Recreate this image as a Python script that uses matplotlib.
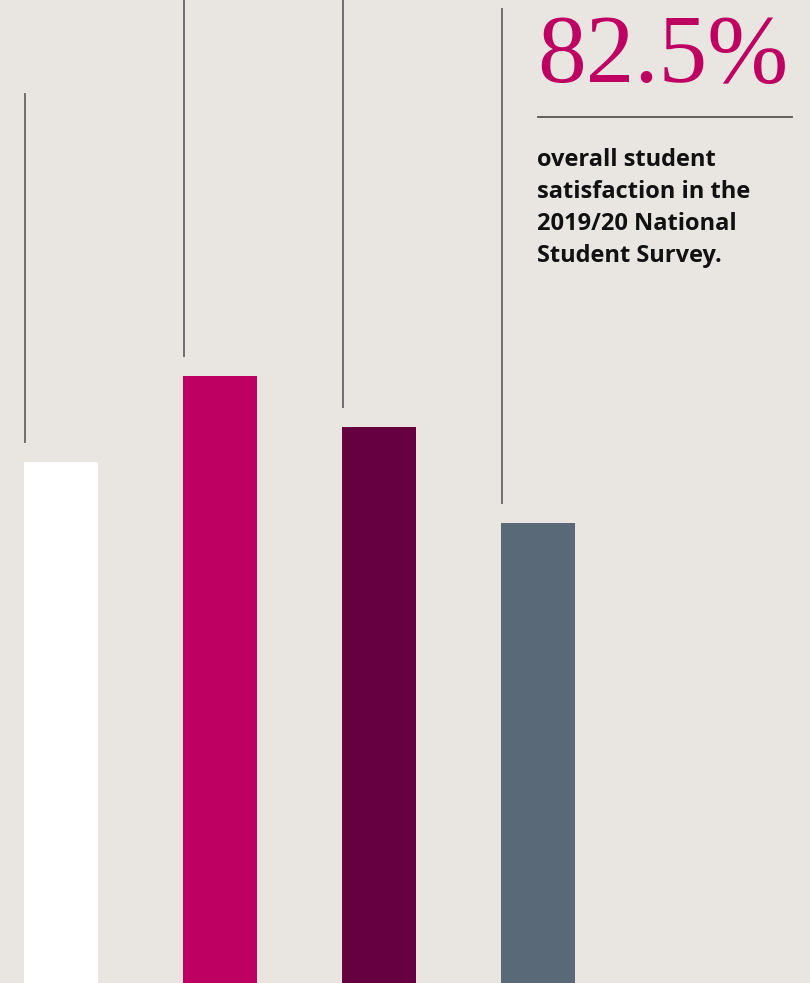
import matplotlib.pyplot as plt

# bar heights and leader-line tops, in pixel units of the 983 px tall panel
categories = ["A", "B", "C", "D"]
bar_values = [521, 607, 556, 460]
line_tops = [890, 983, 983, 975]
bar_colors = ["#FFFFFF", "#BF0063", "#660041", "#5A6978"]

headline = "82.5%"
caption = "overall student\nsatisfaction in the\n2019/20 National\nStudent Survey."

bg = "#E9E6E2"

fig = plt.figure(figsize=(8.10, 9.83), dpi=100, facecolor=bg)
ax = fig.add_axes([0, 0, 1, 1])
ax.set_facecolor(bg)
ax.set_xlim(0, 810)
ax.set_ylim(0, 983)
ax.axis("off")

# bars start at x=24 and repeat every 159 px
x = [24 + 159 * i for i in range(len(categories))]
ax.bar(x, bar_values, width=73.5, align="edge", color=bar_colors)

# thin vertical lines above each bar, starting ~19 px above the bar top
for xi, v, top in zip(x, bar_values, line_tops):
    ax.plot([xi + 0.5, xi + 0.5], [v + 19, top], color="#6E6E6E", lw=1.4,
            solid_capstyle="butt")

# headline figure
ax.text(537, 983 - 82, headline, fontsize=70, color="#BF0063",
        family="Liberation Serif", ha="left", va="baseline")
ax.plot([538, 792], [983 - 117, 983 - 117], color="#555555", lw=1.3)

ax.text(537, 983 - 148, caption, fontsize=17, fontweight="bold", color="#111111",
        family="Open Sans", ha="left", va="top", linespacing=1.45)

fig.savefig("out.png", dpi=100, facecolor=bg)
